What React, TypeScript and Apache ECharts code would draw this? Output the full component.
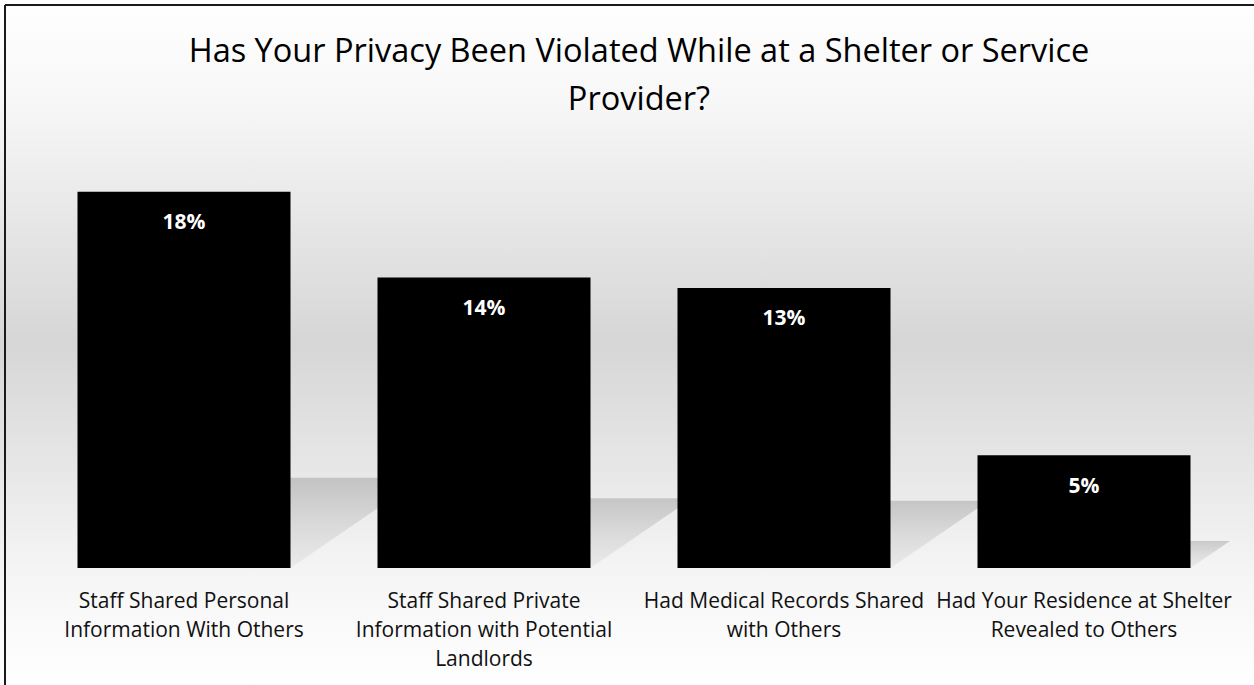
import React, { useEffect, useRef } from "react";
import * as echarts from "echarts";

const titleText = "Has Your Privacy Been Violated While at a Shelter or Service\nProvider?";
const categories = [
  "Staff Shared Personal\nInformation With Others",
  "Staff Shared Private\nInformation with Potential\nLandlords",
  "Had Medical Records Shared\nwith Others",
  "Had Your Residence at Shelter\nRevealed to Others",
];
const values = [0.18, 0.139, 0.134, 0.054];
const yMin = 0;
const yMax = 0.2;

const FONT = "'Open Sans', 'Noto Sans', sans-serif";

export default function App() {
  const ref = useRef<HTMLDivElement>(null);
  useEffect(() => {
    if (!ref.current) return;
    const chart = echarts.init(ref.current, undefined, { renderer: "svg" });
    const option: any = {
      animation: false,
      backgroundColor: new echarts.graphic.LinearGradient(0, 0, 0, 1, [
        { offset: 0, color: "#ffffff" },
        { offset: 0.15, color: "#f7f7f7" },
        { offset: 0.5, color: "#d6d6d6" },
        { offset: 0.85, color: "#f6f6f6" },
        { offset: 1, color: "#ffffff" },
      ]),
      title: {
        text: titleText,
        left: 634,
        top: 20,
        textAlign: "center",
        textStyle: {
          fontFamily: FONT,
          fontSize: 32.5,
          fontWeight: "normal",
          color: "#000",
          lineHeight: 48,
        },
      },
      graphic: [
        { type: "line", shape: { x1: 5, y1: 5, x2: 1254, y2: 5 }, style: { stroke: "#1a1a1a", lineWidth: 2 } },
        { type: "line", shape: { x1: 5, y1: 5, x2: 5, y2: 685 }, style: { stroke: "#1a1a1a", lineWidth: 2 } },
      ],
      grid: { left: 34, right: 20, top: 150, bottom: 117, containLabel: false },
      xAxis: {
        type: "category",
        data: categories,
        axisLine: { show: false },
        axisTick: { show: false },
        axisLabel: {
          interval: 0,
          margin: 17,
          color: "#111",
          fontFamily: FONT,
          fontSize: 21,
          lineHeight: 29,
        },
      },
      yAxis: {
        type: "value",
        min: yMin,
        max: yMax,
        show: false,
        splitLine: { show: false },
      },
      series: [
        {
          type: "custom",
          z: 1,
          silent: true,
          data: values.map((v, i) => [i, v]),
          encode: { x: 0, y: 1 },
          renderItem: (params: any, api: any) => {
            const idx = api.value(0);
            const v = api.value(1);
            const base = api.coord([idx, 0]);
            const top = api.coord([idx, v]);
            const band = api.size([1, 0])[0];
            const bw = band * 0.71;
            const x0 = base[0] - bw / 2;
            const x1 = base[0] + bw / 2;
            const H = base[1] - top[1];
            const h = H * 0.24;
            const d = H * 0.35;
            return {
              type: "polygon",
              shape: {
                points: [
                  [x0, base[1]],
                  [x1, base[1]],
                  [x1 + d, base[1] - h],
                  [x0 + d, base[1] - h],
                ],
              },
              style: {
                fill: new echarts.graphic.LinearGradient(0, 0, 0, 1, [
                  { offset: 0, color: "rgba(0,0,0,0.16)" },
                  { offset: 0.5, color: "rgba(0,0,0,0.09)" },
                  { offset: 1, color: "rgba(0,0,0,0.04)" },
                ]),
              },
            };
          },
        },
        {
          type: "bar",
          z: 2,
          data: values,
          barCategoryGap: "29%",
          itemStyle: { color: "#000" },
          label: {
            show: true,
            position: "insideTop",
            distance: 19,
            color: "#fff",
            fontFamily: FONT,
            fontWeight: "bold",
            fontSize: 21,
            formatter: (p: any) => Math.round(p.value * 100) + "%",
          },
        },
      ],
    };
    chart.setOption(option);
    return () => chart.dispose();
  }, []);
  return (
    <div
      ref={ref}
      style={{ position: "fixed", left: 0, top: 0, width: 1254, height: 685 }}
    />
  );
}
